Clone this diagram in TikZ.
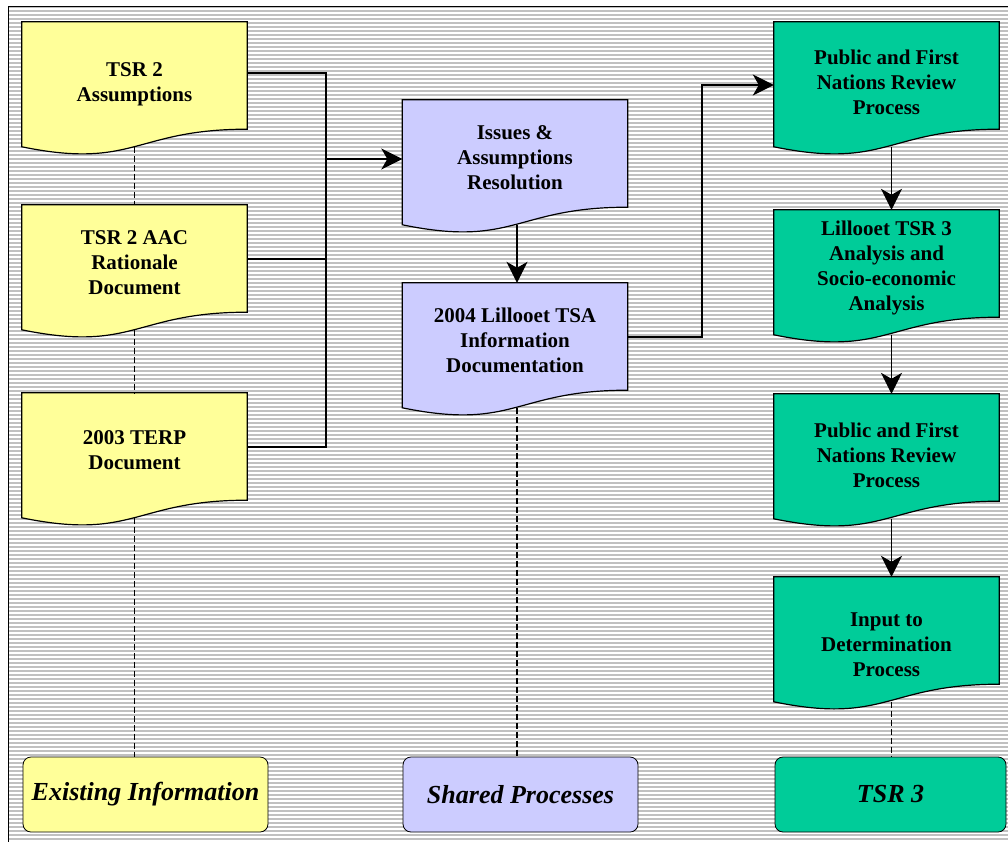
\documentclass[tikz,border=0pt]{standalone}
\usepackage{fontspec}
\setmainfont{Liberation Serif}
\usetikzlibrary{positioning,arrows.meta}

\definecolor{docyellow}{HTML}{FFFF99}
\definecolor{doclilac}{HTML}{CCCCFF}
\definecolor{docgreen}{HTML}{00CC99}
\definecolor{stripegray}{HTML}{C0C0C0}

\pgfdeclarelayer{background}
\pgfdeclarelayer{shapes}
\pgfsetlayers{background,shapes,main}

\newcommand{\dropby}[1]{\rule{0pt}{#1}}

\tikzset{
  doc/.style={minimum width=225pt, minimum height=115pt, inner sep=0pt, align=center,
    font=\fontsize{21}{25}\selectfont\bfseries},
  legend/.style={draw, rounded corners=8pt, minimum height=75pt, line width=0.8pt,
    font=\fontsize{26}{30}\selectfont\bfseries\itshape},
  flow/.style={-{Stealth[length=21pt,width=21pt,inset=6pt]}, line width=1.2pt},
  link/.style={line width=1.2pt},
  guide/.style={dash pattern=on 6pt off 3pt, line width=1.2pt},
}

\begin{document}
\begin{tikzpicture}[x=1pt,y=-1pt,node distance=185pt,on grid]
   \useasboundingbox (0,0) rectangle (1008,842);

   % striped backdrop and frame
   \begin{pgfonlayer}{background}
     \fill[stripegray] (8,7) rectangle (1008,842);
     \foreach \y in {9,13,...,841}
       \draw[white, line width=1.2pt] (8,\y) -- (1008,\y);
     \draw[line width=1pt] (1008,7) -- (8,7) -- (8,842);
   \end{pgfonlayer}

   % documents
   \node[doc] (tsr2) at (134.5,79.5) {\dropby{23pt}TSR 2\\Assumptions};
   \node[doc, below=183pt of tsr2] (aac) {TSR 2 AAC\\Rationale\\Document};
   \node[doc, below=188pt of aac] (terp) {2003 TERP\\Document};
   \node[doc] (issues) at (515,157.5) {Issues \&\\Assumptions\\Resolution};
   \node[doc, below=183pt of issues] (tsa) {2004 Lillooet TSA\\Information\\Documentation};
   \node[doc] (review1) at (886.5,79.5) {\dropby{21pt}Public and First\\Nations Review\\Process};
   \node[doc, below=188pt of review1] (analysis) {Lillooet TSR 3\\Analysis and\\Socio-economic\\Analysis};
   \node[doc, below=184pt of analysis] (review2) {\dropby{23pt}Public and First\\Nations Review\\Process};
   \node[doc, below=183pt of review2] (input) {\dropby{35pt}Input to\\Determination\\Process};

   % legend
   \node[legend, fill=docyellow, minimum width=245pt] (existing) at (145.5,794.5) {Existing Information};
   \node[legend, fill=doclilac, minimum width=235pt] (shared) at (520.5,794.5) {Shared Processes};
   \node[legend, fill=docgreen, minimum width=231pt] (tsr3) at (890.5,794.5) {TSR 3};

   % document outlines with wavy foot
   \begin{pgfonlayer}{shapes}
     \foreach \n/\c in {tsr2/docyellow, aac/docyellow, terp/docyellow,
                        issues/doclilac, tsa/doclilac,
                        review1/docgreen, analysis/docgreen, review2/docgreen, input/docgreen}
       \draw[fill=\c, line width=1.2pt] (\n.north west) -- (\n.north east) -- ([yshift=8pt]\n.south east)
         .. controls ([yshift=8pt]\n.south) and ([yshift=-32.7pt]\n.south) .. ([yshift=-9.6pt]\n.south west) -- cycle;
   \end{pgfonlayer}

   % connectors
   \coordinate (joint) at (326,159);
   \coordinate (bend) at (702,85);
   \draw[link] ([yshift=6.5pt]tsr2.east) -| (joint);
   \draw[link] ([yshift=3.5pt]aac.east) -| (joint);
   \draw[link] ([yshift=3.5pt]terp.east) -| (joint);
   \draw[flow] (joint) -- ([yshift=-1.5pt]issues.west);
   \draw[flow] ([xshift=2pt,yshift=-9.5pt]issues.south) -- ([xshift=2pt]tsa.north);
   \draw[flow] ([yshift=3.5pt]tsa.east) -| (bend) -- ([yshift=-5.5pt]review1.west);
   \draw[flow] ([xshift=5pt,yshift=-9.5pt]review1.south) -- ([xshift=5pt]analysis.north);
   \draw[flow] ([xshift=5pt,yshift=-9.5pt]analysis.south) -- ([xshift=5pt]review2.north);
   \draw[flow] ([xshift=5pt,yshift=-9.5pt]review2.south) -- ([xshift=5pt]input.north);

   % dashed guides
   \draw[guide] ([yshift=-9.5pt]tsr2.south) -- (aac.north);
   \draw[guide] ([yshift=-9.5pt]aac.south) -- (terp.north);
   \draw[guide] ([yshift=-9.5pt]terp.south) -- (terp.south |- existing.north);
   \draw[guide] ([xshift=2pt,yshift=-9.5pt]tsa.south) -- ([xshift=2pt]tsa.south |- shared.north);
   \draw[guide] ([xshift=5pt,yshift=-9.5pt]input.south) -- ([xshift=5pt]input.south |- tsr3.north);
\end{tikzpicture}
\end{document}
